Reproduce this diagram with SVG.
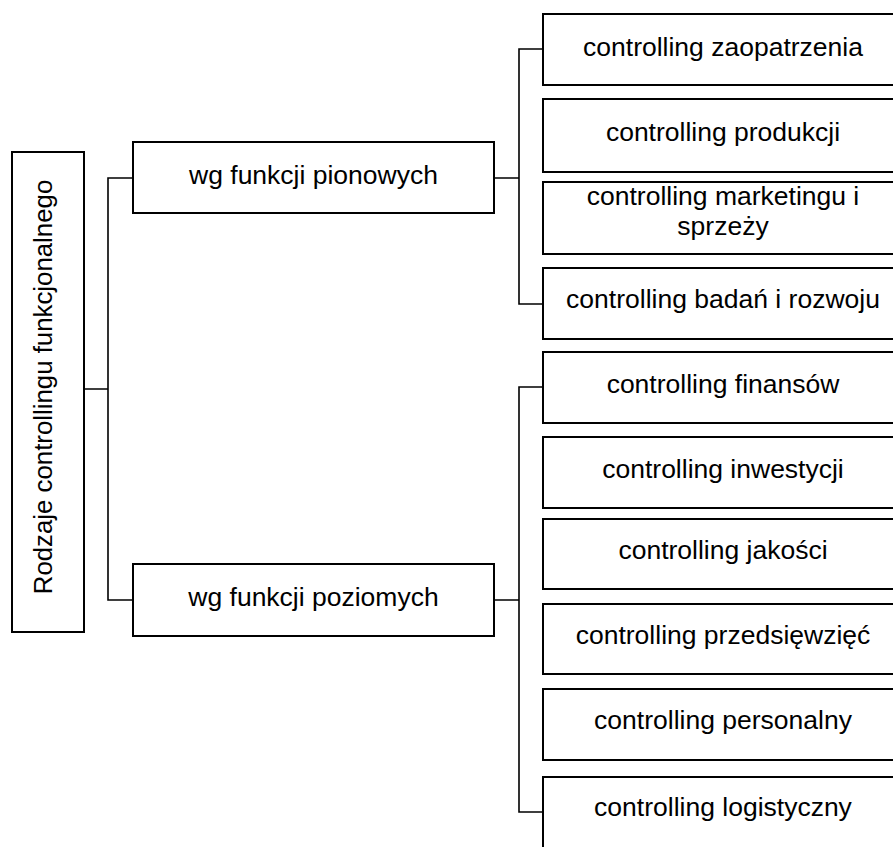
<svg xmlns="http://www.w3.org/2000/svg" width="893" height="847" viewBox="0 0 893 847">
<style>
.box{fill:#fff;stroke:#000;stroke-width:2}
.lbl{font-family:"Liberation Sans",Arial,sans-serif;font-size:26.5px;fill:#000;text-anchor:middle}
.con{fill:none;stroke:#000;stroke-width:1.6}
</style>
<rect width="893" height="847" fill="#fff"/>
<g id="connectors">
<path class="con" d="M84,389 H108 M133,178 H108 V600 H133"/>
<path class="con" d="M494,178 H519 M543,49 H519 V304 H543"/>
<path class="con" d="M494,600 H519 M543,387 H519 V812 H543"/>
</g>
<g id="root">
<rect class="box" x="12" y="152" width="72" height="480"/>
<text class="lbl" style="font-size:25.8px" transform="translate(52,387) rotate(-90)">Rodzaje controllingu funkcjonalnego</text>
</g>
<g id="pionowe">
<rect class="box" x="133" y="142" width="361" height="71"/>
<text class="lbl" x="313.5" y="184">wg funkcji pionowych</text>
</g>
<g id="poziome">
<rect class="box" x="133" y="564" width="361" height="72"/>
<text class="lbl" x="313.5" y="606">wg funkcji poziomych</text>
</g>
<g id="zaopatrzenie">
<rect class="box" x="543" y="14" width="360" height="71"/>
<text class="lbl" x="723" y="56">controlling zaopatrzenia</text>
</g>
<g id="produkcja">
<rect class="box" x="543" y="99" width="360" height="73"/>
<text class="lbl" x="723" y="141">controlling produkcji</text>
</g>
<g id="marketing">
<rect class="box" x="543" y="182" width="360" height="72"/>
<text class="lbl" x="723" y="205">controlling marketingu i</text>
<text class="lbl" x="723" y="235">sprzeży</text>
</g>
<g id="badania">
<rect class="box" x="543" y="268" width="360" height="71"/>
<text class="lbl" x="723" y="308">controlling badań i rozwoju</text>
</g>
<g id="finanse">
<rect class="box" x="543" y="352" width="360" height="71"/>
<text class="lbl" x="723" y="393">controlling finansów</text>
</g>
<g id="inwestycje">
<rect class="box" x="543" y="437" width="360" height="71"/>
<text class="lbl" x="723" y="478">controlling inwestycji</text>
</g>
<g id="jakosc">
<rect class="box" x="543" y="519" width="360" height="70"/>
<text class="lbl" x="723" y="559">controlling jakości</text>
</g>
<g id="przedsiewziecia">
<rect class="box" x="543" y="604" width="360" height="70"/>
<text class="lbl" x="723" y="644">controlling przedsięwzięć</text>
</g>
<g id="personalny">
<rect class="box" x="543" y="689" width="360" height="71"/>
<text class="lbl" x="723" y="729">controlling personalny</text>
</g>
<g id="logistyczny">
<rect class="box" x="543" y="777" width="360" height="80"/>
<text class="lbl" x="723" y="816">controlling logistyczny</text>
</g>
</svg>
